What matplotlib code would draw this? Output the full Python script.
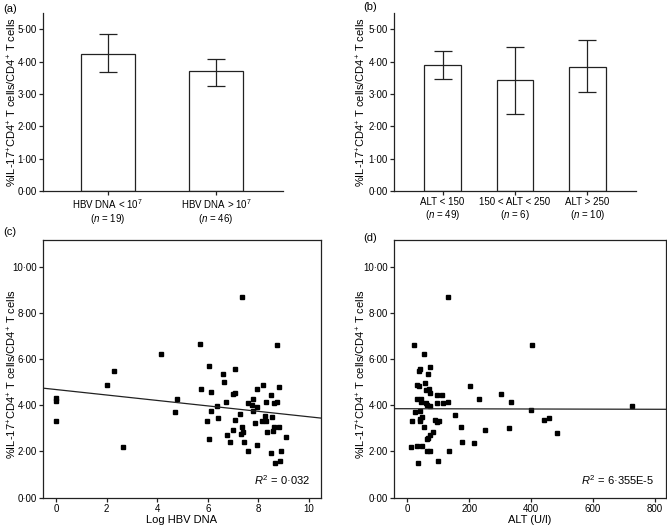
import numpy as np
import matplotlib
matplotlib.use('Agg')
import matplotlib.pyplot as plt
from matplotlib.ticker import FuncFormatter

plt.rcParams['font.family'] = ['Liberation Sans', 'DejaVu Sans']
plt.rcParams['mathtext.fontset'] = 'custom'
plt.rcParams['mathtext.rm'] = 'Liberation Sans'
plt.rcParams['mathtext.it'] = 'Liberation Sans:italic'

# --- datos ---
# (a) segun carga viral
grupos_a = ['HBV DNA < 10$^{7}$\n($n$ = 19)', 'HBV DNA > 10$^{7}$\n($n$ = 46)']
media_a = [4.23, 3.70]
sup_a = [4.85, 4.10]
inf_a = [3.67, 3.26]

# (b) segun ALT
grupos_b = ['ALT < 150\n($n$ = 49)', '150 < ALT < 250\n($n$ = 6)', 'ALT > 250\n($n$ = 10)']
media_b = [3.89, 3.43, 3.84]
sup_b = [4.32, 4.45, 4.67]
inf_b = [3.47, 2.39, 3.06]

# (c) log HBV DNA frente a %IL-17
log_hbv = [0.0, 0.0, 0.0, 2.02, 2.31, 2.64, 4.15, 4.69, 4.77,
           5.68, 6.05, 7.09, 6.59, 6.63, 5.74, 6.14, 7.01, 7.07, 7.93,
           6.71, 6.35, 6.13, 7.79, 7.60, 7.73, 7.79, 7.93, 6.39, 7.26,
           5.97, 7.09, 7.88, 7.34, 6.98, 7.39, 7.33, 6.75, 6.03, 6.89,
           7.42, 7.93, 7.60,
           8.74, 8.18, 8.80, 8.51, 8.29, 8.60, 8.72, 8.25, 8.53, 8.13,
           8.29, 8.81, 8.60, 8.59, 8.35, 9.09, 8.89, 8.50, 8.85, 8.66, 7.35]
il17_c = [4.30, 4.17, 3.31, 4.87, 5.48, 2.18, 6.21, 3.71, 4.29,
          6.64, 5.69, 5.56, 5.34, 5.00, 4.72, 4.56, 4.48, 4.53, 4.72,
          4.14, 3.98, 3.77, 4.29, 4.09, 4.01, 3.77, 3.91, 3.45, 3.62,
          3.31, 3.36, 3.23, 3.07, 2.93, 2.83, 2.77, 2.70, 2.55, 2.41,
          2.41, 2.27, 2.03,
          6.62, 4.88, 4.79, 4.43, 4.14, 4.09, 4.14, 3.54, 3.48, 3.32,
          3.32, 3.05, 3.07, 2.90, 2.83, 2.63, 2.03, 1.95, 1.60, 1.50, 8.70]
ajuste_c = (4.68, -0.118)   # ordenada, pendiente
r2_c = '0·032'

# (d) ALT frente a %IL-17
alt = [21, 54, 73, 41, 39, 67, 56, 31, 38, 70, 59, 72, 96, 111, 32, 45,
       132, 96, 116, 59, 65, 72, 43, 41, 25, 154, 46, 40, 42, 14, 90, 102,
       96, 175, 53, 82, 73, 68, 64, 177, 12, 30, 47, 65, 74, 134, 35, 100,
       402, 203, 302, 231, 336, 727, 401, 441, 457, 330, 250, 485, 215, 130]
il17_d = [6.62, 6.22, 5.67, 5.56, 5.50, 5.34, 4.98, 4.89, 4.85, 4.72, 4.66,
          4.52, 4.43, 4.43, 4.29, 4.26, 4.16, 4.10, 4.09, 4.10, 4.03, 3.97,
          4.13, 3.77, 3.70, 3.59, 3.51, 3.39, 3.31, 3.31, 3.35, 3.32, 3.28,
          3.07, 3.05, 2.84, 2.71, 2.60, 2.53, 2.40, 2.18, 2.24, 2.24, 2.02,
          2.01, 2.02, 1.49, 1.59,
          6.61, 4.84, 4.49, 4.29, 4.14, 3.97, 3.80, 3.36, 3.46, 3.00, 2.93,
          2.81, 2.38, 8.70]
ajuste_d = (3.85, -0.00003)
r2_d = '6·355E-5'

ylabel = '%IL-17$^{+}$CD4$^{+}$ T cells/CD4$^{+}$ T cells'
color = '#222222'
W, H = 667, 525


def punto(v, pos):
    return f'{v:.2f}'.replace('.', '·')


def ejes(ax, xlab_px, left_px, width_px, ycentro):
    for s in ax.spines.values():
        s.set_color(color)
        s.set_linewidth(0.9)
    ax.tick_params(direction='out', length=3, width=0.9, color=color,
                   labelsize=7, pad=1.5)
    ax.yaxis.set_major_formatter(FuncFormatter(punto))
    ax.set_ylabel(ylabel, fontsize=8, va='center')
    ax.yaxis.set_label_coords((xlab_px - left_px) / width_px, ycentro)


def barras(ax, grupos, media, sup, inf, xlim, caja_px, xlab_px):
    x = np.arange(len(grupos))
    media = np.array(media)
    err = [media - np.array(inf), np.array(sup) - media]
    ax.bar(x, media, width=0.5, color='white', edgecolor=color, linewidth=0.9)
    ax.errorbar(x, media, yerr=err, fmt='none', ecolor=color, elinewidth=0.9,
                capsize=6.5, capthick=0.9)
    ax.set_xlim(*xlim)
    ax.set_ylim(0, 5.5)
    ax.set_yticks(np.arange(0, 6, 1))
    ax.set_xticks(x)
    ax.set_xticklabels(grupos, fontsize=8, linespacing=1.1)
    ax.tick_params(axis='x', length=0, pad=3)
    ax.spines['top'].set_visible(False)
    ax.spines['right'].set_visible(False)
    ejes(ax, xlab_px, caja_px[0], caja_px[2] - caja_px[0], 0.5)


def dispersion(ax, x, y, ajuste, r2, xlim, xticks, xlabel, caja_px, xlab_px):
    ax.plot(x, y, 's', color='black', markersize=2.3)
    ax.axline((0, ajuste[0]), slope=ajuste[1], color=color, linewidth=0.9)
    ax.set_xlim(*xlim)
    ax.set_ylim(0, 11.15)
    ax.set_yticks(np.arange(0, 11, 2))
    ax.set_xticks(xticks)
    ax.set_xlabel(xlabel, fontsize=8, labelpad=1)
    ax.text(0.96, 0.04, f'$R^2$ = {r2}', transform=ax.transAxes,
            ha='right', va='bottom', fontsize=8)
    ejes(ax, xlab_px, caja_px[0], caja_px[2] - caja_px[0], 0.48)


fig = plt.figure(figsize=(6.67, 5.25), dpi=100)


def caja(l, t, r, b):
    return fig.add_axes([l / W, 1 - b / H, (r - l) / W, (b - t) / H])

caja_a = (43, 13.3, 283, 191)
caja_b = (394, 13.3, 636, 191)
caja_c = (43, 240, 321, 497.7)
caja_d = (394, 240, 665.5, 497.7)
ax_a, ax_b, ax_c, ax_d = [caja(*c) for c in (caja_a, caja_b, caja_c, caja_d)]

barras(ax_a, grupos_a, media_a, sup_a, inf_a, (-0.6, 1.62), caja_a, 12)
barras(ax_b, grupos_b, media_b, sup_b, inf_b, (-0.67, 2.67), caja_b, 361)
dispersion(ax_c, log_hbv, il17_c, ajuste_c, r2_c, (-0.51, 10.47),
           [0, 2, 4, 6, 8, 10], 'Log HBV DNA', caja_c, 12)
dispersion(ax_d, alt, il17_d, ajuste_d, r2_d, (-43, 834),
           [0, 200, 400, 600, 800], 'ALT (U/l)', caja_d, 361)

for etiqueta, (px, py) in zip(['(a)', '(b)', '(c)', '(d)'],
                              [(3, 9), (363, 7), (3, 232), (363, 238)]):
    fig.text(px / W, 1 - py / H, etiqueta, fontsize=8, va='center', ha='left')

fig.savefig('out.png', dpi=100)
